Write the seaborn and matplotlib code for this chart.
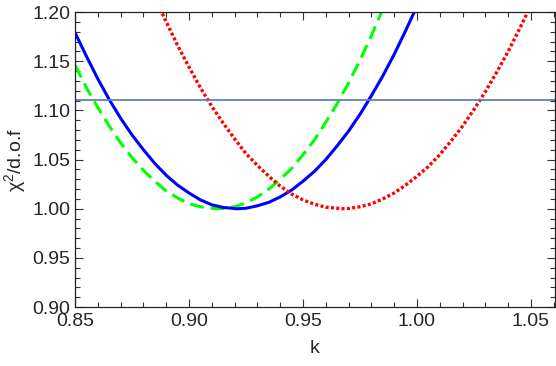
import numpy as np
import pandas as pd
import matplotlib
matplotlib.use("Agg")
import matplotlib.pyplot as plt
from matplotlib.ticker import MultipleLocator, FormatStrFormatter
import seaborn as sns

# values
k_blue = [0.850, 0.855, 0.860, 0.865, 0.870, 0.875, 0.880, 0.885, 0.890, 0.895,
          0.900, 0.905, 0.910, 0.915, 0.921, 0.925, 0.930, 0.935, 0.940, 0.945,
          0.950, 0.955, 0.960, 0.965, 0.970, 0.975, 0.980, 0.985, 0.990, 0.995, 1.000]
chi_blue = [1.179, 1.155, 1.132, 1.111, 1.092, 1.075, 1.060, 1.046, 1.034, 1.024,
            1.016, 1.009, 1.004, 1.0013, 1.000, 1.0005, 1.003, 1.0065, 1.012, 1.019,
            1.028, 1.038, 1.050, 1.064, 1.079, 1.096, 1.115, 1.135, 1.157, 1.181, 1.206]

k_green = [0.850, 0.855, 0.860, 0.865, 0.870, 0.875, 0.880, 0.885, 0.890, 0.895,
           0.900, 0.905, 0.912, 0.915, 0.920, 0.925, 0.930, 0.935, 0.940, 0.945,
           0.950, 0.955, 0.960, 0.965, 0.970, 0.975, 0.980, 0.985, 0.990]
chi_green = [1.146, 1.123, 1.103, 1.084, 1.067, 1.052, 1.039, 1.028, 1.018, 1.011,
             1.005, 1.002, 1.000, 1.0003, 1.002, 1.006, 1.012, 1.020, 1.030, 1.041,
             1.055, 1.070, 1.088, 1.107, 1.128, 1.151, 1.176, 1.203, 1.231]

k_red = [0.880, 0.885, 0.890, 0.895, 0.900, 0.905, 0.910, 0.915, 0.920, 0.925,
         0.930, 0.935, 0.940, 0.945, 0.950, 0.955, 0.960, 0.967, 0.970, 0.975,
         0.980, 0.985, 0.990, 0.995, 1.000, 1.005, 1.010, 1.015, 1.020, 1.025,
         1.030, 1.035, 1.040, 1.045, 1.050, 1.055, 1.060]
chi_red = [1.242, 1.215, 1.190, 1.166, 1.144, 1.123, 1.104, 1.087, 1.071, 1.056,
           1.044, 1.033, 1.023, 1.015, 1.009, 1.0046, 1.0016, 1.000, 1.0003, 1.002,
           1.005, 1.010, 1.016, 1.024, 1.033, 1.043, 1.055, 1.069, 1.084, 1.101,
           1.119, 1.139, 1.160, 1.183, 1.207, 1.232, 1.259]

threshold = 1.111

sns.set_style("ticks")
plt.rcParams['font.family'] = ['Liberation Sans', 'DejaVu Sans']
plt.rcParams['mathtext.fontset'] = 'custom'
plt.rcParams['mathtext.rm'] = 'Liberation Sans'

fig = plt.figure(figsize=(5.56, 3.66), dpi=100)
ax = fig.add_axes([0.135, 0.161, 0.863, 0.806])

df_b = pd.DataFrame({'k': k_blue, 'chi': chi_blue})
df_g = pd.DataFrame({'k': k_green, 'chi': chi_green})
df_r = pd.DataFrame({'k': k_red, 'chi': chi_red})

sns.lineplot(data=df_g, x='k', y='chi', ax=ax, color='#00ff00', lw=2.2,
             estimator=None, linestyle=(0, (4.5, 2.2)))
sns.lineplot(data=df_b, x='k', y='chi', ax=ax, color='#0000ff', lw=2.2,
             estimator=None, solid_joinstyle='round')
sns.lineplot(data=df_r, x='k', y='chi', ax=ax, color='#ff0000', lw=2.4,
             estimator=None, linestyle=(0, (0.9, 0.7)))
ax.axhline(threshold, color='#5e81b5', lw=1.3)

ax.set_xlim(0.85, 1.0605)
ax.set_ylim(0.90, 1.20)
ax.xaxis.set_major_locator(MultipleLocator(0.05))
ax.xaxis.set_minor_locator(MultipleLocator(0.01))
ax.yaxis.set_major_locator(MultipleLocator(0.05))
ax.yaxis.set_minor_locator(MultipleLocator(0.01))
ax.xaxis.set_major_formatter(FormatStrFormatter('%.2f'))
ax.yaxis.set_major_formatter(FormatStrFormatter('%.2f'))
ax.tick_params(which='both', direction='in', top=True, right=True, width=0.8, color='#333333')
ax.tick_params(which='major', length=6, labelsize=14)
ax.tick_params(which='minor', length=3.5)
ax.tick_params(axis='x', which='major', pad=4.5)
ax.tick_params(axis='y', which='major', pad=3.5)
for s in ax.spines.values():
    s.set_color('#222222')
    s.set_linewidth(0.9)

ax.set_xlabel('k', fontsize=14, labelpad=7)
ax.set_ylabel('χ$^2$/d.o.f', fontsize=14, labelpad=2)

fig.savefig('out.png', dpi=100)
